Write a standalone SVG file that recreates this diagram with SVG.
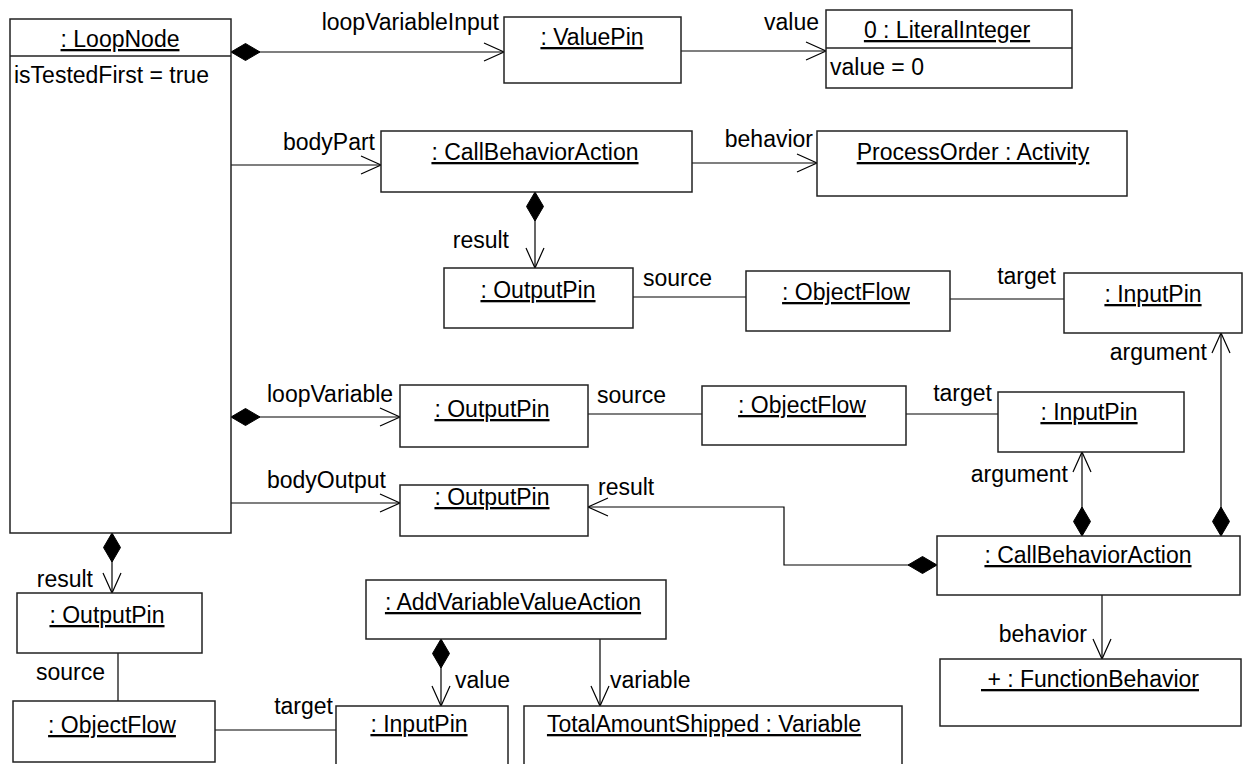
<svg xmlns="http://www.w3.org/2000/svg" width="1243" height="764" viewBox="0 0 1243 764">
  <style>
    .box { fill: #ffffff; stroke: #222222; stroke-width: 1.5; }
    .sep { stroke: #222222; stroke-width: 1.5; }
    .t { font-family: "Liberation Sans", Arial, sans-serif; font-size: 23px; fill: #000000; }
    .name { text-anchor: middle; text-decoration: underline; }
    .end { text-anchor: end; }
    .link { fill: none; stroke: #000000; stroke-width: 1.2; }
  </style>
  <defs>
    <!-- open navigable arrowhead -->
    <marker id="open" viewBox="-22 -11 24 22" refX="0" refY="0" markerWidth="24" markerHeight="22" markerUnits="userSpaceOnUse" orient="auto" overflow="visible">
      <path d="M -20 -9 L 0 0 L -20 9" fill="none" stroke="#000000" stroke-width="1.2"/>
    </marker>
    <!-- filled composition diamond at the owner end -->
    <marker id="comp" viewBox="-1 -10 32 20" refX="0" refY="0" markerWidth="32" markerHeight="20" markerUnits="userSpaceOnUse" orient="auto" overflow="visible">
      <path d="M 0 0 L 14.5 -8.5 L 29 0 L 14.5 8.5 Z" fill="#000000" stroke="#000000" stroke-width="1"/>
    </marker>
  </defs>

  <rect width="1243" height="764" fill="#ffffff"/>

  <!-- connectors -->
  <g id="connectors">
    <path class="link" d="M231 52 H504" marker-start="url(#comp)" marker-end="url(#open)"/>
    <path class="link" d="M681 51 H826" marker-end="url(#open)"/>
    <path class="link" d="M231 165 H381" marker-end="url(#open)"/>
    <path class="link" d="M692 163 H817" marker-end="url(#open)"/>
    <path class="link" d="M535 192 V268" marker-start="url(#comp)" marker-end="url(#open)"/>
    <path class="link" d="M633 297 H746"/>
    <path class="link" d="M950 299 H1064"/>
    <path class="link" d="M231 417 H400" marker-start="url(#comp)" marker-end="url(#open)"/>
    <path class="link" d="M588 414 H702"/>
    <path class="link" d="M906 414 H998"/>
    <path class="link" d="M1082 536 V452" marker-start="url(#comp)" marker-end="url(#open)"/>
    <path class="link" d="M1221 536 V333" marker-start="url(#comp)" marker-end="url(#open)"/>
    <path class="link" d="M231 503 H400" marker-end="url(#open)"/>
    <path class="link" d="M937 565 H784 V507 H588" marker-start="url(#comp)" marker-end="url(#open)"/>
    <path class="link" d="M112 533 V593" marker-start="url(#comp)" marker-end="url(#open)"/>
    <path class="link" d="M118 653 V701"/>
    <path class="link" d="M215 730 H336"/>
    <path class="link" d="M441 639 V706" marker-start="url(#comp)" marker-end="url(#open)"/>
    <path class="link" d="M600 639 V706" marker-end="url(#open)"/>
    <path class="link" d="M1102 595 V659" marker-end="url(#open)"/>

    <!-- role names -->
    <text class="t end" x="499" y="30">loopVariableInput</text>
    <text class="t end" x="819" y="30">value</text>
    <text class="t end" x="375" y="150">bodyPart</text>
    <text class="t end" x="813" y="147">behavior</text>
    <text class="t end" x="509" y="248">result</text>
    <text class="t" x="643" y="286">source</text>
    <text class="t end" x="1056" y="284">target</text>
    <text class="t end" x="1207" y="360">argument</text>
    <text class="t" x="267" y="402">loopVariable</text>
    <text class="t" x="597" y="403">source</text>
    <text class="t end" x="992" y="401">target</text>
    <text class="t end" x="1068" y="482">argument</text>
    <text class="t" x="267" y="488">bodyOutput</text>
    <text class="t" x="598" y="495">result</text>
    <text class="t end" x="93" y="587">result</text>
    <text class="t" x="36" y="680">source</text>
    <text class="t end" x="333" y="714">target</text>
    <text class="t" x="455" y="688">value</text>
    <text class="t" x="610" y="688">variable</text>
    <text class="t end" x="1087" y="642">behavior</text>
  </g>

  <!-- nodes -->
  <g id="loopNode">
    <rect class="box" x="10" y="19" width="221" height="514"/>
    <line class="sep" x1="10" y1="56" x2="231" y2="56"/>
    <text class="t name" x="120" y="47">: LoopNode</text>
    <text class="t" x="14" y="83">isTestedFirst = true</text>
  </g>
  <g id="valuePin">
    <rect class="box" x="504" y="17" width="177" height="66"/>
    <text class="t name" x="592" y="45">: ValuePin</text>
  </g>
  <g id="literalInteger">
    <rect class="box" x="826" y="10" width="246" height="78"/>
    <line class="sep" x1="826" y1="48" x2="1072" y2="48"/>
    <text class="t name" x="947" y="38">0 : LiteralInteger</text>
    <text class="t" x="830" y="75">value = 0</text>
  </g>
  <g id="callBehaviorAction1">
    <rect class="box" x="381" y="131" width="311" height="61"/>
    <text class="t name" x="535" y="160">: CallBehaviorAction</text>
  </g>
  <g id="processOrder">
    <rect class="box" x="817" y="131" width="310" height="65"/>
    <text class="t name" x="973" y="160">ProcessOrder : Activity</text>
  </g>
  <g id="outputPin1">
    <rect class="box" x="444" y="268" width="189" height="60"/>
    <text class="t name" x="538" y="298">: OutputPin</text>
  </g>
  <g id="objectFlow1">
    <rect class="box" x="746" y="271" width="204" height="60"/>
    <text class="t name" x="846" y="300">: ObjectFlow</text>
  </g>
  <g id="inputPin1">
    <rect class="box" x="1064" y="273" width="178" height="60"/>
    <text class="t name" x="1153" y="302">: InputPin</text>
  </g>
  <g id="outputPin2">
    <rect class="box" x="400" y="385" width="188" height="62"/>
    <text class="t name" x="492" y="417">: OutputPin</text>
  </g>
  <g id="objectFlow2">
    <rect class="box" x="702" y="386" width="204" height="59"/>
    <text class="t name" x="802" y="413">: ObjectFlow</text>
  </g>
  <g id="inputPin2">
    <rect class="box" x="998" y="392" width="186" height="60"/>
    <text class="t name" x="1089" y="420">: InputPin</text>
  </g>
  <g id="outputPin3">
    <rect class="box" x="400" y="485" width="188" height="51"/>
    <text class="t name" x="492" y="505">: OutputPin</text>
  </g>
  <g id="callBehaviorAction2">
    <rect class="box" x="937" y="536" width="303" height="59"/>
    <text class="t name" x="1088" y="563">: CallBehaviorAction</text>
  </g>
  <g id="functionBehavior">
    <rect class="box" x="940" y="659" width="301" height="67"/>
    <text class="t name" x="1090" y="687" xml:space="preserve"> + : FunctionBehavior</text>
  </g>
  <g id="outputPin4">
    <rect class="box" x="17" y="593" width="185" height="60"/>
    <text class="t name" x="107" y="623">: OutputPin</text>
  </g>
  <g id="objectFlow3">
    <rect class="box" x="13" y="701" width="202" height="61"/>
    <text class="t name" x="112" y="733">: ObjectFlow</text>
  </g>
  <g id="addVariableValueAction">
    <rect class="box" x="366" y="580" width="300" height="59"/>
    <text class="t name" x="513" y="610">: AddVariableValueAction</text>
  </g>
  <g id="inputPin3">
    <rect class="box" x="336" y="706" width="172" height="70"/>
    <text class="t name" x="419" y="732">: InputPin</text>
  </g>
  <g id="totalAmountShipped">
    <rect class="box" x="524" y="706" width="378" height="70"/>
    <text class="t name" x="704" y="732">TotalAmountShipped : Variable</text>
  </g>
</svg>
